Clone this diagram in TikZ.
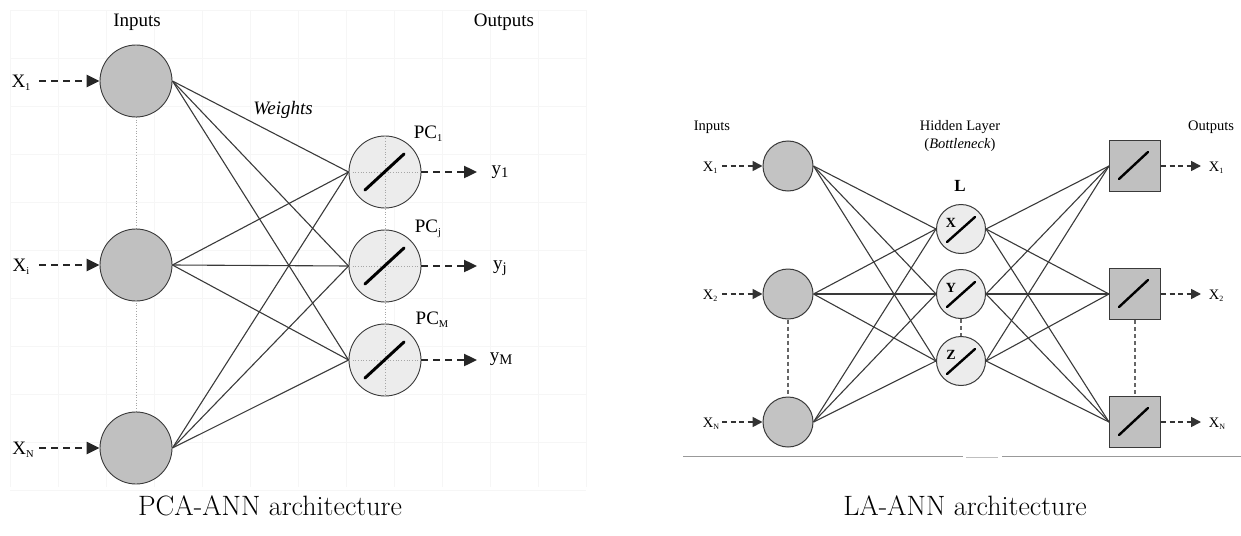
\documentclass[tikz,border=0pt]{standalone}
\usepackage{fontspec}
\usepackage{graphicx}
\usetikzlibrary{arrows.meta}
\newfontfamily\tnr{Liberation Serif}
\newcommand{\lowsub}[1]{\raisebox{-0.35ex}{\scalebox{0.55}{#1}}}

\definecolor{inputgray}{HTML}{C0C0C0}
\definecolor{pcgray}{HTML}{ECECEC}
\definecolor{edgegray}{HTML}{3A3A3A}
\definecolor{gridgray}{HTML}{F6F6F6}

\tikzset{
  lbl/.style={font=\tnr\fontsize{19}{22}\selectfont, inner sep=0pt},
  slbl/.style={font=\tnr\fontsize{14.5}{17}\selectfont, inner sep=0pt},
  bigin/.style={circle, draw=edgegray, line width=0.9pt, fill=inputgray, minimum size=72pt, inner sep=0pt},
  pcunit/.style={circle, draw=edgegray, line width=0.9pt, fill=pcgray, minimum size=72pt, inner sep=0pt},
  smallin/.style={circle, draw=edgegray, line width=1pt, fill=inputgray!95!white, minimum size=50pt, inner sep=0pt},
  hidunit/.style={circle, draw=edgegray, line width=1pt, fill=pcgray, minimum size=49pt, inner sep=0pt},
  outbox/.style={rectangle, draw=edgegray, line width=1pt, fill=inputgray, minimum size=51pt, inner sep=0pt},
  wire/.style={draw=edgegray, line width=1.1pt},
  bigarrow/.style={draw=black!85, line width=2.4pt, dash pattern=on 7pt off 5pt,
    -{Triangle[length=13pt,width=12pt]}},
  smallarrow/.style={draw=black!80, line width=1.7pt, dash pattern=on 5pt off 3.5pt,
    -{Triangle[length=10pt,width=10pt]}},
  faintdot/.style={draw=black!35, line width=0.7pt, dotted},
  linkdash/.style={draw=black!60, line width=1.2pt, dash pattern=on 4pt off 3pt},
  slash/.style={draw=black, line width=3pt, line cap=round},
  caption/.style={font=\fontsize{28}{32}\selectfont, inner sep=0pt}
}

\begin{document}
\begin{tikzpicture}[x=1pt, y=-1pt]
\useasboundingbox (0,0) rectangle (1241,535);

% ---------------- PCA-ANN ----------------
% light background grid
\foreach \gx in {10,58,...,586} \draw[gridgray, line width=0.5pt] (\gx,10) -- (\gx,487);
\foreach \gy in {10,58,...,490} \draw[gridgray, line width=0.5pt] (10,\gy) -- (586,\gy);

\node[lbl] (inl) at (137,22) {Inputs};
\node[lbl] (outl) at (504,22) {Outputs};
\node[lbl, font=\tnr\itshape\fontsize{19}{22}\selectfont] (wl) at (283,110) {Weights};

% dotted links along the columns
\draw[faintdot] (136,117) -- (136,230);
\draw[faintdot] (136,300) -- (136,412);
\draw[faintdot] (385,136) -- (385,396);

\node[bigin] (i1) at (136,81) {};
\node[bigin] (ii) at (136,265) {};
\node[bigin] (iN) at (136,448) {};

\node[pcunit] (p1) at (385,172) {};
\node[pcunit] (pj) at (385,266) {};
\node[pcunit] (pM) at (385,360) {};

% interior guide cross and linear transfer mark of the PC units
\foreach \p in {p1,pj,pM} {
  \draw[faintdot] (\p.north) -- (\p.south);
  \draw[faintdot] ([xshift=4pt]\p.west) -- ([xshift=-4pt]\p.east);
  \draw[slash] ([shift={(-20pt,-18pt)}]\p.center) -- ([shift={(19pt,18pt)}]\p.center);
}

% weights
\foreach \a in {i1,ii,iN}
  \foreach \b in {p1,pj,pM}
    \draw[wire] (\a.east) -- (\b.west);

% input arrows and labels
\node[lbl] (x1) at (21,83) {X\lowsub{1}};
\node[lbl] (xi) at (21,267) {X\lowsub{i}};
\node[lbl] (xN) at (23,450) {X\lowsub{N}};
\coordinate (a1) at (39,81);
\coordinate (ai) at (39,265);
\coordinate (aN) at (39,448);
\draw[bigarrow] (a1) -- (i1.west);
\draw[bigarrow] (ai) -- (ii.west);
\draw[bigarrow] (aN) -- (iN.west);

% output arrows and labels
\coordinate (b1) at (477,172);
\coordinate (bj) at (477,266);
\coordinate (bM) at (477,360);
\draw[bigarrow] (p1.east) -- (b1);
\draw[bigarrow] (pj.east) -- (bj);
\draw[bigarrow] (pM.east) -- (bM);
\node[lbl] (y1) at (500,172) {y\lowsub{\scalebox{1.4}{1}}};
\node[lbl] (yj) at (500,268) {y\lowsub{\scalebox{1.4}{j}}};
\node[lbl] (yM) at (501,359) {y\lowsub{\scalebox{1.4}{M}}};

\node[lbl] (pc1) at (428,134) {PC\lowsub{1}};
\node[lbl] (pcj) at (428,229) {PC\lowsub{j}};
\node[lbl] (pcM) at (432,320) {PC\lowsub{M}};

% ---------------- LA-ANN ----------------
\node[slbl] (inr) at (712,127) {Inputs};
\node[slbl] (outr) at (1211,127) {Outputs};
\node[slbl] (hl) at (960,127) {Hidden Layer};
\node[slbl] (bn) at (960,145) {(\textit{Bottleneck})};
\node[slbl, font=\tnr\bfseries\fontsize{17}{20}\selectfont] (L) at (960,186) {L};

\node[smallin] (r1) at (788,166) {};
\node[smallin] (r2) at (788,294) {};
\node[smallin] (rN) at (788,422) {};

\node[hidunit] (hx) at (961,229) {};
\node[hidunit] (hy) at (961,294) {};
\node[hidunit] (hz) at (961,361) {};

\node[outbox] (o1) at (1135,166) {};
\node[outbox] (o2) at (1135,294) {};
\node[outbox] (oN) at (1135,422) {};

\draw[linkdash] (r2.south) -- (rN.north);
\draw[linkdash] (hy.south) -- (hz.north);
\draw[linkdash] (o2.south) -- (oN.north);

\foreach \a in {r1,r2,rN}
  \foreach \b in {hx,hy,hz}
    \draw[wire] (\a.east) -- (\b.west);
\foreach \a in {hx,hy,hz}
  \foreach \b in {o1,o2,oN}
    \draw[wire] (\a.east) -- (\b.west);

% hidden units: letter and linear mark
\foreach \h/\t in {hx/X,hy/Y,hz/Z} {
  \draw[slash, line width=2.4pt] ([shift={(-14pt,-13pt)}]\h.center) -- ([shift={(14pt,12pt)}]\h.center);
  \node[font=\tnr\bfseries\fontsize{14}{16}\selectfont, inner sep=0pt] at ([shift={(-10pt,6pt)}]\h.center) {\t};
}
\foreach \o in {o1,o2,oN}
  \draw[slash, line width=2.4pt] ([shift={(-16pt,-13pt)}]\o.center) -- ([shift={(13pt,14pt)}]\o.center);

% input and output arrows
\node[slbl] (rx1) at (710,168) {X\lowsub{1}};
\node[slbl] (rx2) at (710,296) {X\lowsub{2}};
\node[slbl] (rxN) at (711,424) {X\lowsub{N}};
\coordinate (c1) at (722,166);
\coordinate (c2) at (722,294);
\coordinate (cN) at (722,422);
\draw[smallarrow] (c1) -- (r1.west);
\draw[smallarrow] (c2) -- (r2.west);
\draw[smallarrow] (cN) -- (rN.west);

\coordinate (d1) at (1201,166);
\coordinate (d2) at (1201,294);
\coordinate (dN) at (1201,422);
\draw[smallarrow] (o1.east) -- (d1);
\draw[smallarrow] (o2.east) -- (d2);
\draw[smallarrow] (oN.east) -- (dN);
\node[slbl] (ox1) at (1216,168) {X\lowsub{1}};
\node[slbl] (ox2) at (1216,296) {X\lowsub{2}};
\node[slbl] (oxN) at (1217,424) {X\lowsub{N}};

% rule under the LA-ANN figure
\draw[black!40, line width=1pt] (683,456) -- (963,456);
\draw[black!40, line width=1pt] (1002,456) -- (1241,456);
\draw[black!25, line width=0.8pt] (966,457) -- (998,457);

% ---------------- captions ----------------
\node[caption] (cap1) at (270,506) {PCA-ANN architecture};
\node[caption] (cap2) at (965,506) {LA-ANN architecture};
\end{tikzpicture}
\end{document}
